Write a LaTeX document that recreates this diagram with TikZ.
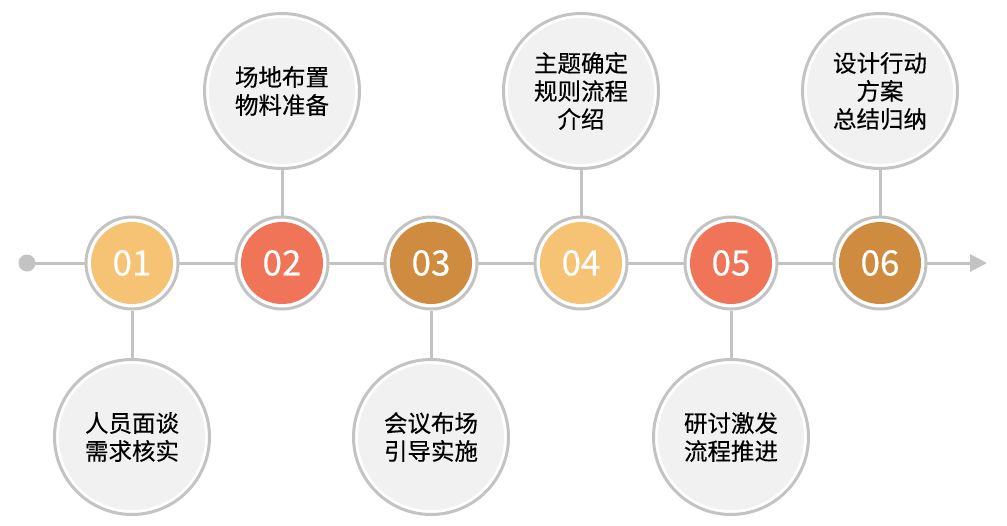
\documentclass[tikz,border=0pt]{standalone}
\usepackage{fontspec}
\setmainfont{Noto Sans CJK SC}
\newfontfamily\medfont[FakeBold=0.35]{Noto Sans CJK SC}
\newfontfamily\numfont[FakeBold=0.25]{Noto Sans CJK SC}
\usetikzlibrary{arrows.meta}
\definecolor{ringgrey}{HTML}{C3C3C3}
\definecolor{bigfill}{HTML}{F1F1F1}
\definecolor{cyellow}{HTML}{F6C274}
\definecolor{cred}{HTML}{F07558}
\definecolor{cbrown}{HTML}{CF8C40}
\tikzset{
  smallring/.style={circle, draw=ringgrey, line width=3pt, fill=white, minimum size=92pt, inner sep=0pt},
  numdot/.style={circle, minimum size=82pt, inner sep=0pt, text=white, font=\numfont\fontsize{35}{40}\selectfont},
  bigring/.style={circle, draw=ringgrey, line width=3pt, fill=white, minimum size=155pt, inner sep=0pt},
  bigdot/.style={circle, fill=bigfill, minimum size=146pt, inner sep=0pt, align=center, text=black, font=\medfont\fontsize{23.5}{28}\selectfont},
  conn/.style={draw=ringgrey, line width=3pt},
}
\begin{document}
\begin{tikzpicture}[x=1pt,y=-1pt]
\useasboundingbox (0,0) rectangle (1007,525);
% timeline
\coordinate (start) at (27,263);
\coordinate (endpt) at (987,263);
\fill[ringgrey] (start) circle (8.5);
\draw[conn, -{Triangle[length=17pt,width=17pt]}] (start) -- (endpt);
% small circles
\foreach \i/\x in {1/132,2/282,3/431,4/581,5/731,6/880}{
  \node[smallring] (r\i) at (\x,263) {};
}
% big circles
\node[bigring] (b1) at (132,437) {};
\node[bigring] (b2) at (282,91) {};
\node[bigring] (b3) at (431,437) {};
\node[bigring] (b4) at (581,91) {};
\node[bigring] (b5) at (731,437) {};
\node[bigring] (b6) at (880,91) {};
% connectors
\draw[conn] (b1.north) -- (r1.south);
\draw[conn] (b2.south) -- (r2.north);
\draw[conn] (b3.north) -- (r3.south);
\draw[conn] (b4.south) -- (r4.north);
\draw[conn] (b5.north) -- (r5.south);
\draw[conn] (b6.south) -- (r6.north);
% number dots
\node[numdot, fill=cyellow] (n1) at (r1) {01};
\node[numdot, fill=cred] (n2) at (r2) {02};
\node[numdot, fill=cbrown] (n3) at (r3) {03};
\node[numdot, fill=cyellow] (n4) at (r4) {04};
\node[numdot, fill=cred] (n5) at (r5) {05};
\node[numdot, fill=cbrown] (n6) at (r6) {06};
% texts
\node[bigdot] (t1) at (b1) {人员面谈\\需求核实};
\node[bigdot] (t2) at (b2) {场地布置\\物料准备};
\node[bigdot] (t3) at (b3) {会议布场\\引导实施};
\node[bigdot] (t4) at (b4) {主题确定\\规则流程\\介绍};
\node[bigdot] (t5) at (b5) {研讨激发\\流程推进};
\node[bigdot] (t6) at (b6) {设计行动\\方案\\总结归纳};
\end{tikzpicture}
\end{document}
